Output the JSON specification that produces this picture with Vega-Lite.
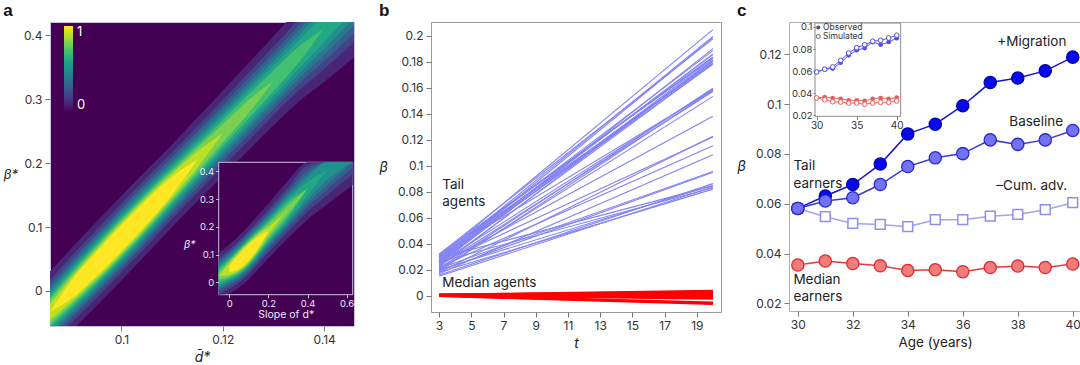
{
"$schema":"https://vega.github.io/schema/vega-lite/v6.json",
"padding":{"left":2,"top":1,"right":0,"bottom":0},
"background":"white",
"config":{
 "font":"Inter",
 "axis":{"labelFontSize":12,"labelColor":"#333","tickColor":"#777","tickSize":5,"domain":false,"grid":false,"titleFontWeight":"normal","titleColor":"#222","labelPadding":3,"labelOverlap":false},
 "title":{"fontSize":17,"fontWeight":"bold","anchor":"start","frame":"bounds","offset":2,"color":"#111","font":"Liberation Sans"}
},
"datasets":{
"heat":[
{"d":0.0859,"v":0.1,"lo":-0.0959,"hi":0.0303},{"d":0.09,"v":0.1,"lo":-0.0636,"hi":0.0656},{"d":0.095,"v":0.1,"lo":-0.0242,"hi":0.1078},{"d":0.1,"v":0.1,"lo":0.0164,"hi":0.1492},{"d":0.105,"v":0.1,"lo":0.0578,"hi":0.1898},{"d":0.11,"v":0.1,"lo":0.1002,"hi":0.2294},{"d":0.115,"v":0.1,"lo":0.1403,"hi":0.2713},{"d":0.12,"v":0.1,"lo":0.1801,"hi":0.3135},{"d":0.125,"v":0.1,"lo":0.2195,"hi":0.3561},{"d":0.13,"v":0.1,"lo":0.259,"hi":0.3986},{"d":0.135,"v":0.1,"lo":0.2963,"hi":0.4433},{"d":0.14,"v":0.1,"lo":0.327,"hi":0.4946},{"d":0.1459,"v":0.1,"lo":0.3656,"hi":0.5528},
{"d":0.0859,"v":0.2,"lo":-0.0828,"hi":0.0172},{"d":0.09,"v":0.2,"lo":-0.0509,"hi":0.0529},{"d":0.095,"v":0.2,"lo":-0.0117,"hi":0.0953},{"d":0.1,"v":0.2,"lo":0.0288,"hi":0.1368},{"d":0.105,"v":0.2,"lo":0.0703,"hi":0.1773},{"d":0.11,"v":0.2,"lo":0.1129,"hi":0.2167},{"d":0.115,"v":0.2,"lo":0.1539,"hi":0.2577},{"d":0.12,"v":0.2,"lo":0.1946,"hi":0.299},{"d":0.125,"v":0.2,"lo":0.2347,"hi":0.3409},{"d":0.13,"v":0.2,"lo":0.275,"hi":0.3826},{"d":0.135,"v":0.2,"lo":0.3136,"hi":0.426},{"d":0.14,"v":0.2,"lo":0.3474,"hi":0.4742},{"d":0.1459,"v":0.2,"lo":0.3893,"hi":0.5291},
{"d":0.0859,"v":0.3,"lo":-0.0753,"hi":0.0097},{"d":0.09,"v":0.3,"lo":-0.0438,"hi":0.0458},{"d":0.095,"v":0.3,"lo":-0.0048,"hi":0.0884},{"d":0.1,"v":0.3,"lo":0.0356,"hi":0.13},{"d":0.105,"v":0.3,"lo":0.0772,"hi":0.1704},{"d":0.11,"v":0.3,"lo":0.12,"hi":0.2096},{"d":0.115,"v":0.3,"lo":0.1617,"hi":0.2499},{"d":0.12,"v":0.3,"lo":0.203,"hi":0.2906},{"d":0.125,"v":0.3,"lo":0.2436,"hi":0.332},{"d":0.13,"v":0.3,"lo":0.2843,"hi":0.3733},{"d":0.135,"v":0.3,"lo":0.3239,"hi":0.4157},{"d":0.14,"v":0.3,"lo":0.3597,"hi":0.4619},{"d":0.1459,"v":0.3,"lo":0.4036,"hi":0.5148},
{"d":0.0859,"v":0.4,"lo":-0.0695,"hi":0.0039},{"d":0.09,"v":0.4,"lo":-0.0383,"hi":0.0403},{"d":0.095,"v":0.4,"lo":0.0003,"hi":0.0833},{"d":0.1,"v":0.4,"lo":0.0407,"hi":0.1249},{"d":0.105,"v":0.4,"lo":0.0823,"hi":0.1653},{"d":0.11,"v":0.4,"lo":0.1255,"hi":0.2041},{"d":0.115,"v":0.4,"lo":0.1676,"hi":0.244},{"d":0.12,"v":0.4,"lo":0.2095,"hi":0.2841},{"d":0.125,"v":0.4,"lo":0.2505,"hi":0.3251},{"d":0.13,"v":0.4,"lo":0.2918,"hi":0.3658},{"d":0.135,"v":0.4,"lo":0.3321,"hi":0.4075},{"d":0.14,"v":0.4,"lo":0.3696,"hi":0.452},{"d":0.1459,"v":0.4,"lo":0.4156,"hi":0.5028},
{"d":0.0859,"v":0.5,"lo":-0.0646,"hi":-0.001},{"d":0.09,"v":0.5,"lo":-0.0338,"hi":0.0358},{"d":0.095,"v":0.5,"lo":0.0046,"hi":0.079},{"d":0.1,"v":0.5,"lo":0.0449,"hi":0.1207},{"d":0.105,"v":0.5,"lo":0.0866,"hi":0.161},{"d":0.11,"v":0.5,"lo":0.13,"hi":0.1996},{"d":0.115,"v":0.5,"lo":0.1728,"hi":0.2388},{"d":0.12,"v":0.5,"lo":0.2152,"hi":0.2784},{"d":0.125,"v":0.5,"lo":0.2567,"hi":0.3189},{"d":0.13,"v":0.5,"lo":0.2985,"hi":0.3591},{"d":0.135,"v":0.5,"lo":0.3397,"hi":0.3999},{"d":0.14,"v":0.5,"lo":0.3791,"hi":0.4425},{"d":0.1459,"v":0.5,"lo":0.4273,"hi":0.4911},
{"d":0.0859,"v":0.6,"lo":-0.06,"hi":-0.0056},{"d":0.09,"v":0.6,"lo":-0.0296,"hi":0.0316},{"d":0.095,"v":0.6,"lo":0.0085,"hi":0.0751},{"d":0.1,"v":0.6,"lo":0.0487,"hi":0.1169},{"d":0.105,"v":0.6,"lo":0.0905,"hi":0.1571},{"d":0.11,"v":0.6,"lo":0.1342,"hi":0.1954},{"d":0.115,"v":0.6,"lo":0.1776,"hi":0.234},{"d":0.12,"v":0.6,"lo":0.2207,"hi":0.2729},{"d":0.125,"v":0.6,"lo":0.2627,"hi":0.3129},{"d":0.13,"v":0.6,"lo":0.3052,"hi":0.3524},{"d":0.135,"v":0.6,"lo":0.3476,"hi":0.392},{"d":0.14,"v":0.6,"lo":0.3894,"hi":0.4322},{"d":0.1459,"v":0.6,"lo":0.4417,"hi":0.4767},
{"d":0.0859,"v":0.7,"lo":-0.0555,"hi":-0.0101},{"d":0.09,"v":0.7,"lo":-0.0257,"hi":0.0277},{"d":0.095,"v":0.7,"lo":0.0121,"hi":0.0715},{"d":0.1,"v":0.7,"lo":0.0522,"hi":0.1134},{"d":0.105,"v":0.7,"lo":0.0941,"hi":0.1535},{"d":0.11,"v":0.7,"lo":0.1381,"hi":0.1915},{"d":0.115,"v":0.7,"lo":0.1823,"hi":0.2293},{"d":0.12,"v":0.7,"lo":0.2263,"hi":0.2673},{"d":0.125,"v":0.7,"lo":0.2691,"hi":0.3065},{"d":0.13,"v":0.7,"lo":0.3127,"hi":0.3449},{"d":0.135,"v":0.7,"lo":0.3575,"hi":0.3821},{"d":0.14,"v":0.7,"lo":0.4108,"hi":0.4108},
{"d":0.0859,"v":0.8,"lo":-0.0507,"hi":-0.0149},{"d":0.09,"v":0.8,"lo":-0.0218,"hi":0.0238},{"d":0.095,"v":0.8,"lo":0.0155,"hi":0.0681},{"d":0.1,"v":0.8,"lo":0.0555,"hi":0.1101},{"d":0.105,"v":0.8,"lo":0.0975,"hi":0.1501},{"d":0.11,"v":0.8,"lo":0.142,"hi":0.1876},{"d":0.115,"v":0.8,"lo":0.1872,"hi":0.2244},{"d":0.12,"v":0.8,"lo":0.2328,"hi":0.2608},{"d":0.125,"v":0.8,"lo":0.2774,"hi":0.2982},{"d":0.13,"v":0.8,"lo":0.3288,"hi":0.3288},
{"d":0.0859,"v":0.9,"lo":-0.0451,"hi":-0.0205},{"d":0.09,"v":0.9,"lo":-0.0177,"hi":0.0197},{"d":0.095,"v":0.9,"lo":0.019,"hi":0.0646},{"d":0.1,"v":0.9,"lo":0.0588,"hi":0.1068},{"d":0.105,"v":0.9,"lo":0.101,"hi":0.1466},{"d":0.11,"v":0.9,"lo":0.1461,"hi":0.1835},{"d":0.115,"v":0.9,"lo":0.1931,"hi":0.2185},{"d":0.12,"v":0.9,"lo":0.2468,"hi":0.2468},
{"d":0.0859,"v":1.0,"lo":-0.0328,"hi":-0.0328},{"d":0.09,"v":1.0,"lo":-0.0131,"hi":0.0151},{"d":0.095,"v":1.0,"lo":0.0225,"hi":0.0611},{"d":0.1,"v":1.0,"lo":0.0622,"hi":0.1034},{"d":0.105,"v":1.0,"lo":0.1045,"hi":0.1431},{"d":0.11,"v":1.0,"lo":0.1507,"hi":0.1789},{"d":0.115,"v":1.0,"lo":0.2058,"hi":0.2058}
],
"inset":[
{"d":-0.054,"v":0.1,"lo":-0.0628,"hi":0.1068},{"d":0,"v":0.1,"lo":-0.0401,"hi":0.1361},{"d":0.05,"v":0.1,"lo":-0.0189,"hi":0.1689},{"d":0.1,"v":0.1,"lo":0.011,"hi":0.205},{"d":0.15,"v":0.1,"lo":0.049,"hi":0.243},{"d":0.2,"v":0.1,"lo":0.0864,"hi":0.2836},{"d":0.3,"v":0.1,"lo":0.1584,"hi":0.3656},{"d":0.4,"v":0.1,"lo":0.2258,"hi":0.4502},{"d":0.5,"v":0.1,"lo":0.2802,"hi":0.5298},{"d":0.631,"v":0.1,"lo":0.3505,"hi":0.6295},
{"d":-0.054,"v":0.2,"lo":-0.0439,"hi":0.0879},{"d":0,"v":0.2,"lo":-0.0221,"hi":0.1181},{"d":0.05,"v":0.2,"lo":-0.0012,"hi":0.1512},{"d":0.1,"v":0.2,"lo":0.029,"hi":0.187},{"d":0.15,"v":0.2,"lo":0.0681,"hi":0.2239},{"d":0.2,"v":0.2,"lo":0.1074,"hi":0.2626},{"d":0.3,"v":0.2,"lo":0.1815,"hi":0.3425},{"d":0.4,"v":0.2,"lo":0.2538,"hi":0.4222},{"d":0.5,"v":0.2,"lo":0.3131,"hi":0.4969},{"d":0.631,"v":0.2,"lo":0.3891,"hi":0.5909},
{"d":-0.054,"v":0.3,"lo":-0.0329,"hi":0.0769},{"d":0,"v":0.3,"lo":-0.0119,"hi":0.1079},{"d":0.05,"v":0.3,"lo":0.0086,"hi":0.1414},{"d":0.1,"v":0.3,"lo":0.039,"hi":0.177},{"d":0.15,"v":0.3,"lo":0.0789,"hi":0.2131},{"d":0.2,"v":0.3,"lo":0.1194,"hi":0.2506},{"d":0.3,"v":0.3,"lo":0.1949,"hi":0.3291},{"d":0.4,"v":0.3,"lo":0.2706,"hi":0.4054},{"d":0.5,"v":0.3,"lo":0.3334,"hi":0.4766},{"d":0.631,"v":0.3,"lo":0.4135,"hi":0.5665},
{"d":-0.054,"v":0.4,"lo":-0.0243,"hi":0.0683},{"d":0,"v":0.4,"lo":-0.0042,"hi":0.1002},{"d":0.05,"v":0.4,"lo":0.016,"hi":0.134},{"d":0.1,"v":0.4,"lo":0.0464,"hi":0.1696},{"d":0.15,"v":0.4,"lo":0.087,"hi":0.205},{"d":0.2,"v":0.4,"lo":0.1287,"hi":0.2413},{"d":0.3,"v":0.4,"lo":0.2054,"hi":0.3186},{"d":0.4,"v":0.4,"lo":0.2845,"hi":0.3915},{"d":0.5,"v":0.4,"lo":0.3508,"hi":0.4592},{"d":0.631,"v":0.4,"lo":0.4351,"hi":0.5449},
{"d":-0.054,"v":0.5,"lo":-0.0166,"hi":0.0606},{"d":0,"v":0.5,"lo":0.0025,"hi":0.0935},{"d":0.05,"v":0.5,"lo":0.0221,"hi":0.1279},{"d":0.1,"v":0.5,"lo":0.0526,"hi":0.1634},{"d":0.15,"v":0.5,"lo":0.0939,"hi":0.1981},{"d":0.2,"v":0.5,"lo":0.1367,"hi":0.2333},{"d":0.3,"v":0.5,"lo":0.2148,"hi":0.3092},{"d":0.4,"v":0.5,"lo":0.298,"hi":0.378},{"d":0.5,"v":0.5,"lo":0.3689,"hi":0.4411},{"d":0.631,"v":0.5,"lo":0.4602,"hi":0.5198},
{"d":-0.054,"v":0.6,"lo":-0.0092,"hi":0.0532},{"d":0,"v":0.6,"lo":0.0086,"hi":0.0874},{"d":0.05,"v":0.6,"lo":0.0276,"hi":0.1224},{"d":0.1,"v":0.6,"lo":0.0582,"hi":0.1578},{"d":0.15,"v":0.6,"lo":0.1001,"hi":0.1919},{"d":0.2,"v":0.6,"lo":0.1443,"hi":0.2257},{"d":0.3,"v":0.6,"lo":0.2239,"hi":0.3001},{"d":0.4,"v":0.6,"lo":0.3135,"hi":0.3625},{"d":0.5,"v":0.6,"lo":0.405,"hi":0.405},
{"d":-0.054,"v":0.7,"lo":-0.0012,"hi":0.0452},{"d":0,"v":0.7,"lo":0.0146,"hi":0.0814},{"d":0.05,"v":0.7,"lo":0.0327,"hi":0.1173},{"d":0.1,"v":0.7,"lo":0.0633,"hi":0.1527},{"d":0.15,"v":0.7,"lo":0.106,"hi":0.186},{"d":0.2,"v":0.7,"lo":0.1519,"hi":0.2181},{"d":0.3,"v":0.7,"lo":0.2336,"hi":0.2904},{"d":0.4,"v":0.7,"lo":0.338,"hi":0.338},
{"d":-0.054,"v":0.8,"lo":0.0091,"hi":0.0349},{"d":0,"v":0.8,"lo":0.0207,"hi":0.0753},{"d":0.05,"v":0.8,"lo":0.0376,"hi":0.1124},{"d":0.1,"v":0.8,"lo":0.0681,"hi":0.1479},{"d":0.15,"v":0.8,"lo":0.1119,"hi":0.1801},{"d":0.2,"v":0.8,"lo":0.1602,"hi":0.2098},{"d":0.3,"v":0.8,"lo":0.2462,"hi":0.2778},{"d":0.4,"v":0.8,"lo":0.338,"hi":0.338},
{"d":-0.054,"v":0.9,"lo":0.022,"hi":0.022},{"d":0,"v":0.9,"lo":0.0275,"hi":0.0685},{"d":0.05,"v":0.9,"lo":0.0425,"hi":0.1075},{"d":0.1,"v":0.9,"lo":0.073,"hi":0.143},{"d":0.15,"v":0.9,"lo":0.118,"hi":0.174},{"d":0.2,"v":0.9,"lo":0.1711,"hi":0.1989},{"d":0.3,"v":0.9,"lo":0.262,"hi":0.262},
{"d":0,"v":1.0,"lo":0.0365,"hi":0.0595},{"d":0.05,"v":1.0,"lo":0.0476,"hi":0.1024},{"d":0.1,"v":1.0,"lo":0.0779,"hi":0.1381},{"d":0.15,"v":1.0,"lo":0.1249,"hi":0.1671},{"d":0.2,"v":1.0,"lo":0.185,"hi":0.185}
],
"tail":[
{"id":1,"t":3,"b":0.030},{"id":1,"t":20,"b":0.2046},
{"id":2,"t":3,"b":0.028},{"id":2,"t":20,"b":0.1995},
{"id":3,"t":3,"b":0.026},{"id":3,"t":20,"b":0.1985},
{"id":4,"t":3,"b":0.032},{"id":4,"t":20,"b":0.1975},
{"id":5,"t":3,"b":0.024},{"id":5,"t":20,"b":0.19},
{"id":6,"t":3,"b":0.029},{"id":6,"t":20,"b":0.1885},
{"id":7,"t":3,"b":0.027},{"id":7,"t":20,"b":0.1854},
{"id":8,"t":3,"b":0.031},{"id":8,"t":20,"b":0.1836},
{"id":9,"t":3,"b":0.025},{"id":9,"t":20,"b":0.1825},
{"id":10,"t":3,"b":0.022},{"id":10,"t":20,"b":0.1815},
{"id":11,"t":3,"b":0.028},{"id":11,"t":20,"b":0.1805},
{"id":12,"t":3,"b":0.026},{"id":12,"t":20,"b":0.18},
{"id":13,"t":3,"b":0.030},{"id":13,"t":20,"b":0.179},
{"id":14,"t":3,"b":0.023},{"id":14,"t":20,"b":0.1785},
{"id":15,"t":3,"b":0.027},{"id":15,"t":20,"b":0.178},
{"id":16,"t":3,"b":0.021},{"id":16,"t":20,"b":0.1595},
{"id":17,"t":3,"b":0.025},{"id":17,"t":20,"b":0.159},
{"id":18,"t":3,"b":0.019},{"id":18,"t":20,"b":0.158},
{"id":19,"t":3,"b":0.023},{"id":19,"t":20,"b":0.157},
{"id":20,"t":3,"b":0.020},{"id":20,"t":20,"b":0.1533},
{"id":21,"t":3,"b":0.024},{"id":21,"t":20,"b":0.138},
{"id":22,"t":3,"b":0.018},{"id":22,"t":20,"b":0.1226},
{"id":23,"t":3,"b":0.022},{"id":23,"t":20,"b":0.1154},
{"id":24,"t":3,"b":0.017},{"id":24,"t":20,"b":0.1085},
{"id":25,"t":3,"b":0.021},{"id":25,"t":20,"b":0.0956},
{"id":26,"t":3,"b":0.019},{"id":26,"t":20,"b":0.095},
{"id":27,"t":3,"b":0.016},{"id":27,"t":20,"b":0.0862},
{"id":28,"t":3,"b":0.020},{"id":28,"t":20,"b":0.085},
{"id":29,"t":3,"b":0.015},{"id":29,"t":20,"b":0.0836},
{"id":30,"t":3,"b":0.018},{"id":30,"t":20,"b":0.082},
{"id":31,"t":3,"b":0.026},{"id":31,"t":20,"b":0.083},
{"id":32,"t":3,"b":0.029},{"id":32,"t":20,"b":0.0845},
{"id":33,"t":3,"b":0.031},{"id":33,"t":20,"b":0.158},
{"id":34,"t":3,"b":0.032},{"id":34,"t":20,"b":0.183},
{"id":35,"t":3,"b":0.027},{"id":35,"t":20,"b":0.186},
{"id":36,"t":3,"b":0.025},{"id":36,"t":20,"b":0.122}
],
"median":[
{"id":1,"t":3,"b":0.0006},{"id":1,"t":20,"b":0.0036},
{"id":2,"t":3,"b":0.0004},{"id":2,"t":20,"b":0.003},
{"id":3,"t":3,"b":0.0008},{"id":3,"t":20,"b":0.0024},
{"id":4,"t":3,"b":0.0002},{"id":4,"t":20,"b":0.0018},
{"id":5,"t":3,"b":0.0005},{"id":5,"t":20,"b":0.0012},
{"id":6,"t":3,"b":0.0},{"id":6,"t":20,"b":0.0006},
{"id":7,"t":3,"b":0.0003},{"id":7,"t":20,"b":0.0},
{"id":8,"t":3,"b":0.0006},{"id":8,"t":20,"b":-0.0006},
{"id":9,"t":3,"b":0.0001},{"id":9,"t":20,"b":-0.0012},
{"id":10,"t":3,"b":0.0004},{"id":10,"t":20,"b":-0.002},
{"id":11,"t":3,"b":0.0002},{"id":11,"t":20,"b":-0.0055},
{"id":12,"t":3,"b":0.0},{"id":12,"t":20,"b":-0.0062}
],
"cmain":[
{"s":"mig","age":30,"b":0.0581},{"s":"mig","age":31,"b":0.0631},{"s":"mig","age":32,"b":0.0677},{"s":"mig","age":33,"b":0.0759},{"s":"mig","age":34,"b":0.088},{"s":"mig","age":35,"b":0.0919},{"s":"mig","age":36,"b":0.0993},{"s":"mig","age":37,"b":0.1086},{"s":"mig","age":38,"b":0.1104},{"s":"mig","age":39,"b":0.1133},{"s":"mig","age":40,"b":0.1188},
{"s":"base","age":30,"b":0.0581},{"s":"base","age":31,"b":0.0611},{"s":"base","age":32,"b":0.0624},{"s":"base","age":33,"b":0.0677},{"s":"base","age":34,"b":0.0749},{"s":"base","age":35,"b":0.0784},{"s":"base","age":36,"b":0.0801},{"s":"base","age":37,"b":0.0856},{"s":"base","age":38,"b":0.0838},{"s":"base","age":39,"b":0.0856},{"s":"base","age":40,"b":0.0894},
{"s":"cum","age":30,"b":0.0581},{"s":"cum","age":31,"b":0.0548},{"s":"cum","age":32,"b":0.0521},{"s":"cum","age":33,"b":0.0517},{"s":"cum","age":34,"b":0.0508},{"s":"cum","age":35,"b":0.0536},{"s":"cum","age":36,"b":0.0536},{"s":"cum","age":37,"b":0.055},{"s":"cum","age":38,"b":0.0557},{"s":"cum","age":39,"b":0.0576},{"s":"cum","age":40,"b":0.0604},
{"s":"med","age":30,"b":0.0354},{"s":"med","age":31,"b":0.037},{"s":"med","age":32,"b":0.036},{"s":"med","age":33,"b":0.0351},{"s":"med","age":34,"b":0.0332},{"s":"med","age":35,"b":0.0335},{"s":"med","age":36,"b":0.0327},{"s":"med","age":37,"b":0.0344},{"s":"med","age":38,"b":0.035},{"s":"med","age":39,"b":0.0344},{"s":"med","age":40,"b":0.0358}
],
"cinset":[
{"s":"blue","k":"obs","age":30,"b":0.0592},{"s":"blue","k":"obs","age":31,"b":0.0617},{"s":"blue","k":"obs","age":32,"b":0.0623},{"s":"blue","k":"obs","age":33,"b":0.0677},{"s":"blue","k":"obs","age":34,"b":0.0743},{"s":"blue","k":"obs","age":35,"b":0.0789},{"s":"blue","k":"obs","age":36,"b":0.0809},{"s":"blue","k":"obs","age":37,"b":0.0864},{"s":"blue","k":"obs","age":38,"b":0.0839},{"s":"blue","k":"obs","age":39,"b":0.0864},{"s":"blue","k":"obs","age":40,"b":0.0898},
{"s":"blue","k":"sim","age":30,"b":0.0592},{"s":"blue","k":"sim","age":31,"b":0.0617},{"s":"blue","k":"sim","age":32,"b":0.0638},{"s":"blue","k":"sim","age":33,"b":0.0698},{"s":"blue","k":"sim","age":34,"b":0.0764},{"s":"blue","k":"sim","age":35,"b":0.0812},{"s":"blue","k":"sim","age":36,"b":0.0839},{"s":"blue","k":"sim","age":37,"b":0.087},{"s":"blue","k":"sim","age":38,"b":0.0879},{"s":"blue","k":"sim","age":39,"b":0.09},{"s":"blue","k":"sim","age":40,"b":0.0925},
{"s":"red","k":"obs","age":30,"b":0.0357},{"s":"red","k":"obs","age":31,"b":0.0366},{"s":"red","k":"obs","age":32,"b":0.0357},{"s":"red","k":"obs","age":33,"b":0.035},{"s":"red","k":"obs","age":34,"b":0.0336},{"s":"red","k":"obs","age":35,"b":0.0336},{"s":"red","k":"obs","age":36,"b":0.033},{"s":"red","k":"obs","age":37,"b":0.035},{"s":"red","k":"obs","age":38,"b":0.0357},{"s":"red","k":"obs","age":39,"b":0.035},{"s":"red","k":"obs","age":40,"b":0.036},
{"s":"red","k":"sim","age":30,"b":0.0357},{"s":"red","k":"sim","age":31,"b":0.0341},{"s":"red","k":"sim","age":32,"b":0.0323},{"s":"red","k":"sim","age":33,"b":0.032},{"s":"red","k":"sim","age":34,"b":0.0311},{"s":"red","k":"sim","age":35,"b":0.0311},{"s":"red","k":"sim","age":36,"b":0.03},{"s":"red","k":"sim","age":37,"b":0.0311},{"s":"red","k":"sim","age":38,"b":0.0318},{"s":"red","k":"sim","age":39,"b":0.0318},{"s":"red","k":"sim","age":40,"b":0.033}
]
},
"spacing":14,
"hconcat":[
{
"spacing":23,
"hconcat":[
{
 "title":{"text":"a"},
 "width":304,"height":304,
 "view":{"fill":"#440154","stroke":"#cbc3dd","strokeWidth":1},
 "resolve":{"scale":{"x":"independent","y":"independent"}},
 "layer":[
  {
   "data":{"name":"heat"},
   "mark":{"type":"area","clip":true,"interpolate":"monotone"},
   "encoding":{
    "x":{"field":"d","type":"quantitative","scale":{"domain":[0.0859,0.1459],"nice":false,"zero":false},
      "axis":{"values":[0.1,0.12,0.14],"format":".2~f","labelOverlap":false,"title":"d̄*","titleFontStyle":"italic","titleFontSize":14,"titlePadding":5}},
    "y":{"field":"lo","type":"quantitative","stack":null,"scale":{"domain":[-0.0548,0.4209],"nice":false,"zero":false},
      "axis":{"values":[0,0.1,0.2,0.3,0.4],"format":".1~f","labelOverlap":false,"title":"β*","titleAngle":0,"titleAlign":"right","titleBaseline":"middle","titleFontStyle":"italic","titleFontSize":13,"titlePadding":6}},
    "y2":{"field":"hi"},
    "color":{"field":"v","type":"quantitative","scale":{"scheme":"viridis","domain":[0,1]},
      "legend":{"orient":"none","legendX":14,"legendY":4,"title":null,"values":[0,1],"format":".0f","gradientLength":86,"gradientThickness":9,"gradientStrokeWidth":0,"labelColor":"white","labelFontSize":13,"labelOffset":4,"direction":"vertical"}}
   }
  },
  {
   "layer":[
    {
     "data":{"values":[{}]},
     "mark":{"type":"rect","fill":"#440154","stroke":"#cdbfe6","strokeWidth":1},
     "encoding":{
      "x":{"datum":-0.054,"type":"quantitative","scale":{"domain":[-0.054,0.631],"range":[168.7,302.7],"nice":false,"zero":false},
        "axis":{"orient":"bottom","offset":-31.3,"values":[0,0.2,0.4,0.6],"format":".1~f","labelOverlap":false,"domain":false,"tickSize":3,"tickColor":"#cdbfe6","labelColor":"#ece6f8","labelFontSize":9.5,"labelPadding":1,"title":"Slope of d*","titleColor":"#ece6f8","titleFontSize":10.5,"titlePadding":1,"zindex":1}},
      "x2":{"datum":0.631},
      "y":{"datum":-0.0447,"type":"quantitative","scale":{"domain":[-0.0447,0.4324],"range":[272.7,140.3],"nice":false,"zero":false,"clamp":true},
        "axis":{"orient":"left","offset":-168.7,"values":[0,0.1,0.2,0.3,0.4],"format":".1~f","labelOverlap":false,"domain":false,"tickSize":3,"tickColor":"#cdbfe6","labelColor":"#ece6f8","labelFontSize":9.5,"labelPadding":2,"title":"β*","titleAngle":0,"titleAlign":"right","titleBaseline":"middle","titleY":222,"titleColor":"#ece6f8","titleFontSize":10.5,"titleFontStyle":"italic","titlePadding":4,"zindex":1}},
      "y2":{"datum":0.4324}
     }
    },
    {
     "data":{"name":"inset"},
     "mark":{"type":"area","interpolate":"monotone"},
     "encoding":{
      "x":{"field":"d","type":"quantitative",
        "axis":{"orient":"bottom","offset":-31.3,"values":[0,0.2,0.4,0.6],"format":".1~f","labelOverlap":false,"domain":false,"tickSize":3,"tickColor":"#cdbfe6","labelColor":"#ece6f8","labelFontSize":9.5,"labelPadding":1,"title":"Slope of d*","titleColor":"#ece6f8","titleFontSize":10.5,"titlePadding":1,"zindex":1}},
      "y":{"field":"lo","type":"quantitative","stack":null,
        "axis":{"orient":"left","offset":-168.7,"values":[0,0.1,0.2,0.3,0.4],"format":".1~f","labelOverlap":false,"domain":false,"tickSize":3,"tickColor":"#cdbfe6","labelColor":"#ece6f8","labelFontSize":9.5,"labelPadding":2,"title":"β*","titleAngle":0,"titleAlign":"right","titleBaseline":"middle","titleY":222,"titleColor":"#ece6f8","titleFontSize":10.5,"titleFontStyle":"italic","titlePadding":4,"zindex":1}},
      "y2":{"field":"hi"},
      "color":{"field":"v","type":"quantitative","legend":null}
     }
    }
   ]
  }
 ]
},
{
 "title":{"text":"b"},
 "width":290,"height":290,
 "view":{"stroke":"#9a9a9a"},
 "encoding":{
  "x":{"field":"t","type":"quantitative","scale":{"domain":[2.5,20.5],"nice":false,"zero":false},
    "axis":{"values":[3,5,7,9,11,13,15,17,19],"labelOverlap":false,"title":"t","titleFontStyle":"italic","titleFontSize":14,"titlePadding":5}},
  "y":{"field":"b","type":"quantitative","scale":{"domain":[-0.0125,0.2105],"nice":false,"zero":false},
    "axis":{"values":[0,0.02,0.04,0.06,0.08,0.1,0.12,0.14,0.16,0.18,0.2],"format":".2~f","labelOverlap":false,"title":"β","titleAngle":0,"titleAlign":"right","titleBaseline":"middle","titleFontStyle":"italic","titleFontSize":14,"titlePadding":10}}
 },
 "layer":[
  {
   "data":{"name":"tail"},
   "mark":{"type":"line","color":"#8282f2","strokeWidth":1.1},
   "encoding":{"detail":{"field":"id"}}
  },
  {
   "data":{"name":"median"},
   "mark":{"type":"line","color":"#ff0000","strokeWidth":2.6},
   "encoding":{"detail":{"field":"id"}}
  },
  {
   "data":{"values":[{"t":3.2,"b":0.0902}]},
   "mark":{"type":"text","align":"left","baseline":"top","lineHeight":17,"fontSize":13.5,"color":"#222"},
   "encoding":{"text":{"value":["Tail","agents"]}}
  },
  {
   "data":{"values":[{"t":3.2,"b":0.0098}]},
   "mark":{"type":"text","align":"left","baseline":"middle","fontSize":13.5,"color":"#222"},
   "encoding":{"text":{"value":"Median agents"}}
  }
 ]
}
]
},
{
 "title":{"text":"c"},
 "width":292,"height":289,
 "view":{"stroke":"#b0b0b0"},
 "resolve":{"scale":{"x":"independent","y":"independent","color":"independent","fill":"independent","stroke":"independent"}},
 "layer":[
  {
   "layer":[
    {
     "data":{"name":"cmain"},
     "mark":{"type":"line","strokeWidth":1.5},
     "encoding":{
      "x":{"field":"age","type":"quantitative","scale":{"domain":[29.68,40.3],"nice":false,"zero":false},
        "axis":{"values":[30,32,34,36,38,40],"labelOverlap":false,"title":"Age (years)","titleFontSize":13.5,"titlePadding":5}},
      "y":{"field":"b","type":"quantitative","scale":{"domain":[0.01695,0.1329],"nice":false,"zero":false},
        "axis":{"values":[0.02,0.04,0.06,0.08,0.1,0.12],"format":".2~f","labelOverlap":false,"title":"β","titleAngle":0,"titleAlign":"right","titleBaseline":"middle","titleFontStyle":"italic","titleFontSize":14,"titlePadding":10}},
      "color":{"field":"s","type":"nominal","scale":{"domain":["mig","base","cum","med"],"range":["#1414d6","#3838da","#a2a2f2","#e63a3a"]},"legend":null}
     }
    },
    {
     "data":{"name":"cmain"},
     "transform":[{"filter":"datum.s == 'cum'"}],
     "mark":{"type":"square","fill":"white","stroke":"#8e8ef0","strokeWidth":1.5,"size":95,"opacity":1},
     "encoding":{
      "x":{"field":"age","type":"quantitative"},
      "y":{"field":"b","type":"quantitative"}
     }
    },
    {
     "data":{"name":"cmain"},
     "transform":[{"filter":"datum.s != 'cum'"}],
     "mark":{"type":"circle","size":150,"strokeWidth":1.3,"opacity":1},
     "encoding":{
      "x":{"field":"age","type":"quantitative"},
      "y":{"field":"b","type":"quantitative"},
      "fill":{"field":"s","type":"nominal","scale":{"domain":["mig","base","med"],"range":["#0808e8","#7272f2","#f27c7c"]},"legend":null},
      "stroke":{"field":"s","type":"nominal","scale":{"domain":["mig","base","med"],"range":["#0000b0","#2a2acc","#e02a2a"]},"legend":null}
     }
    },
    {
     "data":{"values":[{}]},
     "mark":{"type":"text","align":"right","baseline":"middle","fontSize":13.5,"color":"#222"},
     "encoding":{"x":{"datum":39.77,"type":"quantitative"},"y":{"datum":0.1249,"type":"quantitative"},"text":{"value":"+Migration"}}
    },
    {
     "data":{"values":[{}]},
     "mark":{"type":"text","align":"right","baseline":"middle","fontSize":13.5,"color":"#222"},
     "encoding":{"x":{"datum":39.65,"type":"quantitative"},"y":{"datum":0.0926,"type":"quantitative"},"text":{"value":"Baseline"}}
    },
    {
     "data":{"values":[{}]},
     "mark":{"type":"text","align":"right","baseline":"middle","fontSize":13.5,"color":"#222"},
     "encoding":{"x":{"datum":39.8,"type":"quantitative"},"y":{"datum":0.0672,"type":"quantitative"},"text":{"value":"–Cum. adv."}}
    },
    {
     "data":{"values":[{}]},
     "mark":{"type":"text","align":"left","baseline":"top","lineHeight":17.5,"fontSize":13.5,"color":"#222"},
     "encoding":{"x":{"datum":29.84,"type":"quantitative"},"y":{"datum":0.0778,"type":"quantitative"},"text":{"value":["Tail","earners"]}}
    },
    {
     "data":{"values":[{}]},
     "mark":{"type":"text","align":"left","baseline":"top","lineHeight":17.5,"fontSize":13.5,"color":"#222"},
     "encoding":{"x":{"datum":29.84,"type":"quantitative"},"y":{"datum":0.0322,"type":"quantitative"},"text":{"value":["Median","earners"]}}
    }
   ]
  },
  {
   "layer":[
    {
     "data":{"values":[{}]},
     "mark":{"type":"rect","fill":"white","stroke":"#8a8a8a","strokeWidth":1},
     "encoding":{
      "x":{"datum":29.79,"type":"quantitative","scale":{"domain":[29.79,40.5],"range":[26,111.7],"nice":false,"zero":false},
        "axis":{"orient":"bottom","offset":-194.7,"values":[30,35,40],"labelOverlap":false,"domain":false,"tickSize":3,"labelFontSize":10,"labelPadding":1,"title":null,"zindex":1}},
      "x2":{"datum":40.5},
      "y":{"datum":0.0191,"type":"quantitative","scale":{"domain":[0.0191,0.1036],"range":[94.3,1],"nice":false,"zero":false},
        "axis":{"orient":"left","offset":-26,"values":[0.02,0.04,0.06,0.08,0.1],"format":".2~f","labelOverlap":false,"domain":false,"tickSize":2,"labelFontSize":9.5,"labelPadding":1,"title":null,"zindex":1}},
      "y2":{"datum":0.1036}
     }
    },
    {
     "data":{"name":"cinset"},
     "mark":{"type":"line","strokeWidth":1},
     "encoding":{
      "x":{"field":"age","type":"quantitative","axis":{"orient":"bottom","offset":-194.7,"values":[30,35,40],"labelOverlap":false,"domain":false,"tickSize":3,"labelFontSize":10,"labelPadding":1,"title":null,"zindex":1}},
      "y":{"field":"b","type":"quantitative","axis":{"orient":"left","offset":-26,"values":[0.02,0.04,0.06,0.08,0.1],"format":".2~f","labelOverlap":false,"domain":false,"tickSize":2,"labelFontSize":9.5,"labelPadding":1,"title":null,"zindex":1}},
      "color":{"field":"s","type":"nominal","scale":{"domain":["blue","red"],"range":["#5656ea","#f06a6a"]},"legend":null},
      "detail":{"field":"k"}
     }
    },
    {
     "data":{"name":"cinset"},
     "transform":[{"filter":"datum.k == 'obs'"}],
     "mark":{"type":"circle","size":22,"opacity":1},
     "encoding":{
      "x":{"field":"age","type":"quantitative"},
      "y":{"field":"b","type":"quantitative"},
      "fill":{"field":"s","type":"nominal","scale":{"domain":["blue","red"],"range":["#5050e6","#ee5a5a"]},"legend":null}
     }
    },
    {
     "data":{"name":"cinset"},
     "transform":[{"filter":"datum.k == 'sim'"}],
     "mark":{"type":"point","shape":"circle","size":22,"fill":"white","filled":false,"strokeWidth":1,"opacity":1},
     "encoding":{
      "x":{"field":"age","type":"quantitative"},
      "y":{"field":"b","type":"quantitative"},
      "stroke":{"field":"s","type":"nominal","scale":{"domain":["blue","red"],"range":["#5050e6","#ee5a5a"]},"legend":null}
     }
    },
    {
     "data":{"values":[{}]},
     "mark":{"type":"circle","size":16,"color":"#555","opacity":1},
     "encoding":{"x":{"datum":30.2,"type":"quantitative"},"y":{"datum":0.0996,"type":"quantitative"}}
    },
    {
     "data":{"values":[{}]},
     "mark":{"type":"point","shape":"circle","size":16,"filled":false,"color":"#555","strokeWidth":0.9,"opacity":1},
     "encoding":{"x":{"datum":30.2,"type":"quantitative"},"y":{"datum":0.0914,"type":"quantitative"}}
    },
    {
     "data":{"values":[{}]},
     "mark":{"type":"text","align":"left","baseline":"middle","fontSize":8.5,"color":"#333"},
     "encoding":{"x":{"datum":30.8,"type":"quantitative"},"y":{"datum":0.0996,"type":"quantitative"},"text":{"value":"Observed"}}
    },
    {
     "data":{"values":[{}]},
     "mark":{"type":"text","align":"left","baseline":"middle","fontSize":8.5,"color":"#333"},
     "encoding":{"x":{"datum":30.8,"type":"quantitative"},"y":{"datum":0.0914,"type":"quantitative"},"text":{"value":"Simulated"}}
    }
   ]
  }
 ]
}
]
}
